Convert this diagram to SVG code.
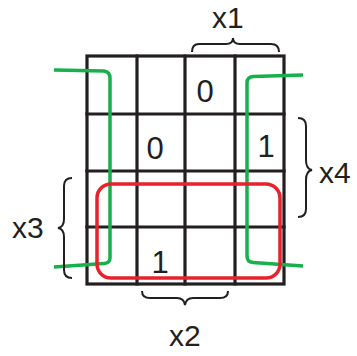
<svg xmlns="http://www.w3.org/2000/svg" width="357" height="356" viewBox="0 0 357 356">
<style>
.grid{fill:none;stroke:#231f20;stroke-width:3.2;stroke-linecap:square}
.brace{fill:none;stroke:#231f20;stroke-width:2}
.t{font-family:"Liberation Sans",Arial,sans-serif;font-size:30px;fill:#231f20}
.d{font-family:"Liberation Sans",Arial,sans-serif;font-size:31px;fill:#231f20;text-anchor:middle}
.green{fill:none;stroke:#16b04c;stroke-width:3.5}
.red{fill:none;stroke:#e8212a;stroke-width:3.5}
</style>
<rect width="357" height="356" fill="#fff"/>
<g id="grid">
<rect class="grid" x="87" y="56" width="197" height="228"/>
<path class="grid" d="M137 56V284M185 56V284M235 56V284M87 114H284M87 171H284M87 227H284"/>
</g>
<g id="cells">
<text class="d" x="205" y="102">0</text>
<text class="d" x="155" y="159">0</text>
<text class="d" x="266" y="157">1</text>
<text class="d" x="160" y="273">1</text>
</g>
<g id="connectors">
<path class="green" d="M54 70L104 71Q110 72 110 78V258Q110 263 104 263.5L54 267"/>
<path class="green" d="M303 75L253 76.5Q247 77 247 83V256Q247 262 253 262.5L303 266"/>
<rect class="red" x="97" y="184" width="183" height="94" rx="14"/>
</g>
<g id="braces">
<path class="brace" d="M192 52Q192 44 199 44H226Q233 44 233 38Q233 44 240 44H271Q279 44 279 52"/>
<path class="brace" d="M298 118Q306 118 306 126V160Q306 169 312 170Q306 171 306 180V209Q306 217 298 217"/>
<path class="brace" d="M72 178Q64 178 64 186V219Q64 227 58 228Q64 229 64 237V270Q64 278 72 278"/>
<path class="brace" d="M142 291Q142 298 150 298H177Q184 298 185 305Q186 298 193 298H220Q228 298 228 291"/>
</g>
<g id="labels">
<text class="t" x="212" y="28">x1</text>
<text class="t" x="319" y="183">x4</text>
<text class="t" x="12" y="238">x3</text>
<text class="t" x="169" y="346">x2</text>
</g>
</svg>
